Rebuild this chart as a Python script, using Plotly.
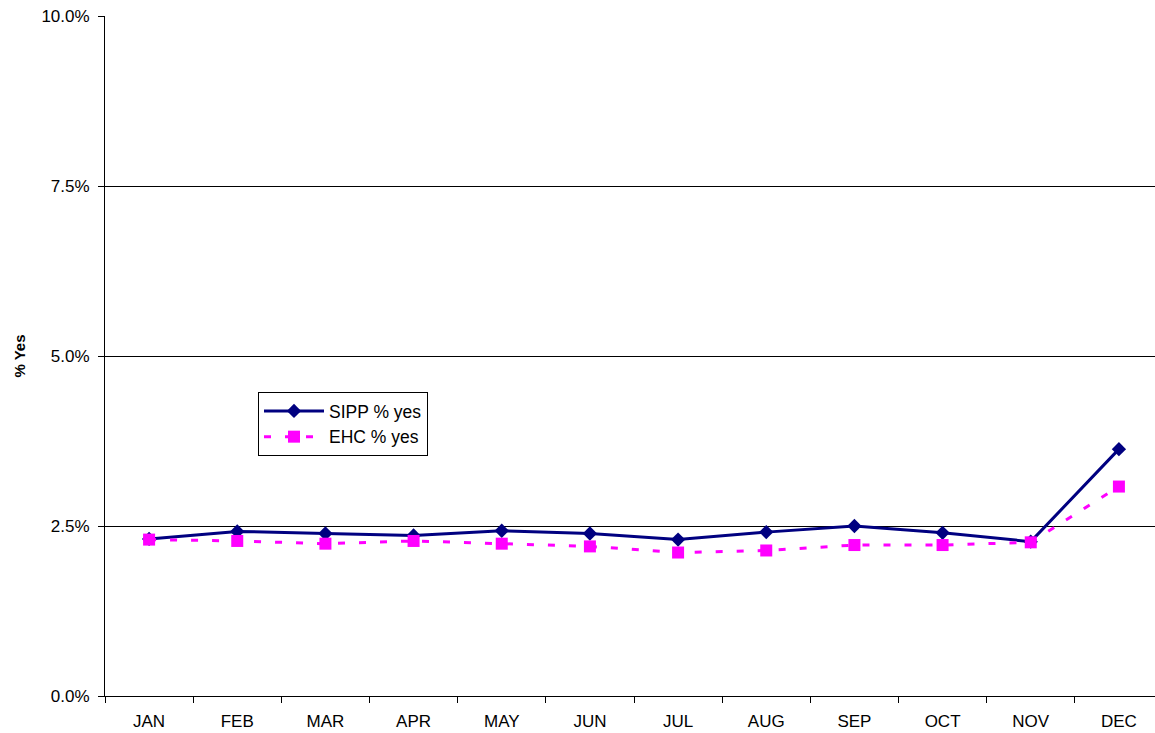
import plotly.graph_objects as go

months = ["JAN", "FEB", "MAR", "APR", "MAY", "JUN", "JUL", "AUG", "SEP", "OCT", "NOV", "DEC"]
sipp = [0.0231, 0.0242, 0.0239, 0.0236, 0.0243, 0.0239, 0.0230, 0.0241, 0.0250, 0.0240, 0.0227, 0.0363]
ehc = [0.0230, 0.0228, 0.0224, 0.0228, 0.0224, 0.0220, 0.0211, 0.0214, 0.0222, 0.0222, 0.0226, 0.0308]

fig = go.Figure()
fig.add_trace(go.Scatter(
    x=months, y=sipp, name="SIPP % yes", mode="lines+markers",
    line=dict(color="#000080", width=3),
    marker=dict(symbol="diamond", size=11, color="#000080"),
))
fig.add_trace(go.Scatter(
    x=months, y=ehc, name="EHC % yes", mode="lines+markers",
    line=dict(color="#FF00FF", width=3, dash="7px,14px"),
    marker=dict(symbol="square", size=12, color="#FF00FF"),
))

font = dict(family="Liberation Sans, Arial, sans-serif", size=17, color="black")
fig.update_layout(
    width=1163, height=733,
    margin=dict(l=105, r=0, t=16, b=37),
    paper_bgcolor="white", plot_bgcolor="white",
    font=font,
    showlegend=True,
    legend=dict(
        x=153 / 1058, y=0.447, xanchor="left", yanchor="top",
        bordercolor="black", borderwidth=1, bgcolor="white",
        font=dict(family="Liberation Sans, Arial, sans-serif", size=17.5, color="black"),
        tracegroupgap=0, itemwidth=60,
    ),
    xaxis=dict(
        type="category", range=[-0.5, 11.5],
        showline=True, linecolor="black", linewidth=1,
        ticks="outside", ticklen=6, tickcolor="black",
        tickson="boundaries", showgrid=False, zeroline=False,
        tickfont=font, ticklabelstandoff=10,
    ),
    yaxis=dict(
        range=[0, 0.1], dtick=0.025, tickformat=".1%",
        showline=True, linecolor="black", linewidth=1,
        ticks="outside", ticklen=6, tickcolor="black",
        showgrid=True, gridcolor="black", gridwidth=1, zeroline=False,
        tickfont=font, ticklabelstandoff=5,
        title=dict(text="<b>% Yes</b>", font=dict(family="Liberation Sans, Arial, sans-serif", size=15, color="black"), standoff=12),
    ),
)

fig.write_html("out.html", config={"displayModeBar": False},
               post_script="document.body.style.margin='0';document.body.style.overflow='hidden';")
